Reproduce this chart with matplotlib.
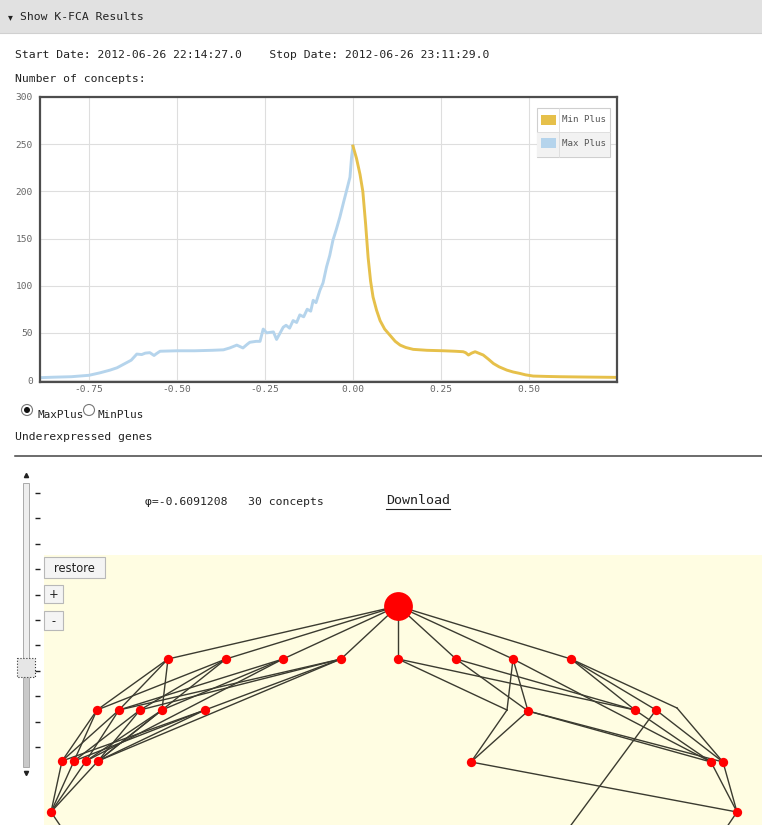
import matplotlib
matplotlib.use("Agg")
import matplotlib.pyplot as plt
from matplotlib.patches import Rectangle, Circle
import numpy as np

# curva "Max Plus" (phi <= 0)
MAX_X = [-0.889, -0.85, -0.80, -0.75, -0.72, -0.69, -0.67, -0.65, -0.63, -0.614,
         -0.60, -0.59, -0.577, -0.565, -0.558, -0.548, -0.50, -0.45, -0.40, -0.368,
         -0.35, -0.33, -0.3125, -0.30, -0.293, -0.275, -0.264, -0.255, -0.245, -0.226,
         -0.217, -0.198, -0.19, -0.18, -0.17, -0.16, -0.151, -0.14, -0.13, -0.12,
         -0.113, -0.105, -0.094, -0.085, -0.075, -0.066, -0.057, -0.047, -0.037, -0.027,
         -0.018, -0.0085, -0.004, 0.0]
MAX_Y = [2.5, 3, 3.5, 5, 7.5, 10.5, 13, 17, 21, 27.5,
         27, 28.5, 29, 26, 28, 30.5, 31, 31, 31.5, 32,
         34, 37, 34, 38, 40, 41, 41, 54, 50, 51,
         43, 56, 58, 55, 63, 61, 69, 67, 75, 73,
         84.5, 82, 95, 103, 120, 132, 148, 160, 173, 188,
         201, 215, 236, 248]

# curva "Min Plus" (phi >= 0)
MIN_X = [0.0, 0.01, 0.02, 0.028, 0.036, 0.043, 0.05, 0.057, 0.067, 0.077,
         0.09, 0.105, 0.12, 0.134, 0.15, 0.171, 0.21, 0.257, 0.29, 0.313,
         0.32, 0.328, 0.337, 0.347, 0.36, 0.37, 0.385, 0.399, 0.415, 0.437,
         0.455, 0.474, 0.49, 0.512, 0.55, 0.588, 0.65, 0.70, 0.749]
MIN_Y = [248, 235, 218, 200, 165, 130, 105, 88, 74, 63,
         54, 47.5, 41, 37, 34.5, 32.5, 31.5, 31, 30.5, 30,
         29, 26.5, 28.5, 30, 28, 26.5, 22, 17.5, 14, 10.5,
         8.5, 7, 5.5, 4.2, 3.8, 3.5, 3.2, 3, 2.8]

X_TICKS = [-0.75, -0.50, -0.25, 0.00, 0.25, 0.50]
Y_TICKS = [0, 50, 100, 150, 200, 250, 300]
SERIES = ["Min Plus", "Max Plus"]
SERIES_COLORS = ["#e6c04a", "#b5d4ec"]

START_DATE = "2012-06-26 22:14:27.0"
STOP_DATE = "2012-06-26 23:11:29.0"
PHI = "-0.6091208"
N_CONCEPTS = 30

# reticulado (posicoes em pixels da pagina)
NODE_X = [398,
          168, 226, 283, 341, 398, 456, 513, 571,
          97, 119, 140, 162, 205, 528, 635, 656,
          62, 74, 86, 98, 471, 711, 723,
          51, 737]
NODE_Y = [606,
          659, 659, 659, 659, 659, 659, 659, 659,
          710, 710, 710, 710, 710, 711, 710, 710,
          761, 761, 761, 761, 762, 762, 762,
          812, 812]
# pontos de dobra / fora da tela (sem marcador)
BEND_X = [507, 677, 560, 718, 70]
BEND_Y = [710, 708, 840, 840, 840]
EDGES = [(0, 1), (0, 2), (0, 3), (0, 4), (0, 5), (0, 6), (0, 7), (0, 8),
         (1, 9), (1, 10), (1, 12), (2, 9), (2, 11), (2, 20), (3, 10), (3, 12), (3, 19),
         (4, 11), (4, 13), (4, 10), (4, 20),
         (9, 17), (9, 18), (10, 17), (10, 19), (11, 18), (11, 20), (12, 19), (12, 20),
         (13, 18), (13, 20), (13, 17),
         (17, 24), (18, 24), (19, 24), (20, 24), (24, 30),
         (5, 26), (26, 21), (5, 15), (6, 14), (6, 15), (7, 26), (7, 14), (7, 22),
         (8, 15), (8, 16), (8, 27), (27, 23),
         (14, 21), (14, 22), (14, 23), (15, 22), (16, 23), (16, 28),
         (22, 25), (23, 25), (21, 25), (25, 29)]

W, H = 762, 825
MONO = "DejaVu Sans Mono"
TXT = 8.2


def main():
    fig = plt.figure(figsize=(W / 100, H / 100), dpi=100)
    page = fig.add_axes([0, 0, 1, 1])
    page.set_xlim(0, W)
    page.set_ylim(H, 0)
    page.axis("off")

    # barra do topo
    page.add_patch(Rectangle((0, 0), W, 33, facecolor="#e1e1e1", edgecolor="none"))
    page.plot([0, W], [33, 33], color="#d0d0d0", lw=0.8)
    page.text(8, 17, "▾", fontsize=7, family="DejaVu Sans", va="center", color="#222")
    page.text(20, 17, "Show K-FCA Results", fontsize=TXT, family=MONO, va="center", color="#222")

    page.text(15, 55, f"Start Date: {START_DATE}    Stop Date: {STOP_DATE}",
              fontsize=TXT, family=MONO, va="center", color="#222")
    page.text(15, 79, "Number of concepts:", fontsize=TXT, family=MONO, va="center", color="#222")

    # grafico
    ax = fig.add_axes([40 / W, 1 - 382 / H, 577 / W, 285 / H])
    ax.plot(MAX_X, MAX_Y, color=SERIES_COLORS[1], lw=2.1, solid_joinstyle="round")
    ax.plot(MIN_X, MIN_Y, color=SERIES_COLORS[0], lw=2.1, solid_joinstyle="round")
    ax.set_xlim(-0.889, 0.75)
    ax.set_ylim(-2.1, 300)
    ax.set_xticks(X_TICKS)
    ax.set_xticklabels([f"{t:.2f}" for t in X_TICKS])
    ax.set_yticks(Y_TICKS)
    ax.grid(True, color="#dedede", lw=0.8)
    ax.set_axisbelow(True)
    ax.tick_params(length=0, labelsize=6.8, labelcolor="#666", pad=2)
    ax.tick_params(axis="y", pad=5)
    for lab in ax.get_xticklabels() + ax.get_yticklabels():
        lab.set_family(MONO)
    for sp in ax.spines.values():
        sp.set_color("#4d4d4d")
        sp.set_linewidth(1.6)

    # camada por cima do grafico para a legenda
    top = fig.add_axes([0, 0, 1, 1])
    top.set_xlim(0, W)
    top.set_ylim(H, 0)
    top.axis("off")
    top.patch.set_alpha(0)
    top.add_patch(Rectangle((537, 108), 73, 49, facecolor="white", edgecolor="#cfcfcf", lw=0.8))
    top.add_patch(Rectangle((537, 132), 73, 25, facecolor="#f2f2f2", edgecolor="none"))
    top.plot([537, 610], [132, 132], color="#dcdcdc", lw=0.6)
    top.plot([559, 559], [108, 157], color="#dcdcdc", lw=0.6)
    for i, name in enumerate(SERIES):
        yc = 120 + 23 * i
        top.add_patch(Rectangle((541, yc - 5), 15, 10, facecolor=SERIES_COLORS[i], edgecolor="none"))
        top.text(562, yc, name, fontsize=6.6, family=MONO, va="center", color="#555")

    # radio
    page.add_patch(Circle((27, 410), 5.5, facecolor="white", edgecolor="#777", lw=0.8))
    page.add_patch(Circle((27, 410), 3, facecolor="#111", edgecolor="none"))
    page.add_patch(Circle((89, 410), 5.5, facecolor="white", edgecolor="#777", lw=0.8))
    page.text(37, 415, "MaxPlus", fontsize=7.9, family=MONO, va="center", color="#222")
    page.text(97, 415, "MinPlus", fontsize=7.9, family=MONO, va="center", color="#222")
    page.text(15, 437, "Underexpressed genes", fontsize=TXT, family=MONO, va="center", color="#222")
    page.plot([15, W], [456, 456], color="#444", lw=1.1)

    # info
    page.text(145, 502, f"φ={PHI}   {N_CONCEPTS} concepts", fontsize=TXT, family=MONO,
              va="center", color="#222")
    page.text(386, 501, "Download", fontsize=9.6, family=MONO, va="center", color="#222")
    page.plot([386, 450], [509, 509], color="#222", lw=0.8)

    # area do reticulado
    page.add_patch(Rectangle((44, 555), W - 44, H - 555, facecolor="#fffde2", edgecolor="none"))

    # barra deslizante
    page.add_patch(Rectangle((23, 483), 6, 184, facecolor="#eeeeee", edgecolor="#aaaaaa", lw=0.7))
    page.add_patch(Rectangle((23, 667), 6, 100, facecolor="#c9c9c9", edgecolor="#aaaaaa", lw=0.7))
    page.plot([26], [475], marker="^", ms=3, color="#222")
    page.plot([26], [773], marker="v", ms=3, color="#222")
    page.hlines(np.linspace(493, 747, 11), 35, 40, color="#222", lw=1.0)
    page.add_patch(Rectangle((17, 658), 18, 19, facecolor="#e6e6e6", edgecolor="#333",
                             lw=0.8, linestyle=":"))

    # botoes
    for (bx, by, bw, bh, lbl) in [(44, 557, 61, 21, "restore"), (44, 585, 19, 18, "+"),
                                  (44, 611, 19, 19, "-")]:
        page.add_patch(Rectangle((bx, by), bw, bh, facecolor="#f4f4f4", edgecolor="#b8b8b8", lw=0.8))
        page.text(bx + bw / 2, by + bh / 2 + 1, lbl, fontsize=8.3, family="DejaVu Sans",
                  ha="center", va="center", color="#222")

    # reticulado
    all_x = NODE_X + BEND_X
    all_y = NODE_Y + BEND_Y
    for a, b in EDGES:
        page.plot([all_x[a], all_x[b]], [all_y[a], all_y[b]], color="#3b3b30", lw=1.0, zorder=2)
    page.scatter(NODE_X[1:], NODE_Y[1:], s=45, color="#ff0000", zorder=3, linewidths=0)
    page.scatter(NODE_X[:1], NODE_Y[:1], s=430, color="#ff0000", zorder=3, linewidths=0)

    fig.savefig("out.png", dpi=100)


main()
